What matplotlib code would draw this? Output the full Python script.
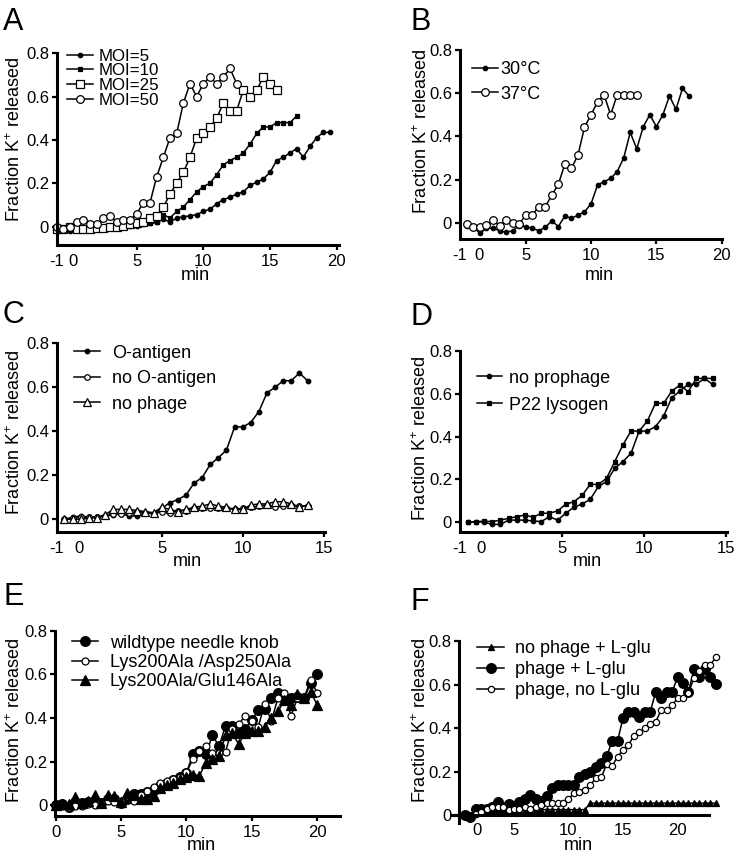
import matplotlib
matplotlib.use('Agg')
import matplotlib.pyplot as plt

plt.rcParams['font.family'] = ['Liberation Sans', 'DejaVu Sans']
plt.rcParams['mathtext.fontset'] = 'custom'
plt.rcParams['mathtext.rm'] = 'Liberation Sans'
plt.rcParams['mathtext.default'] = 'regular'

W, H = 738, 856

# ---- data (fraction of K+ released vs. time in min) ----
# panel A
tA = [-1, -0.5, 0, 0.5, 1, 1.5, 2, 2.5, 3, 3.5, 4, 4.5, 5, 5.5, 6, 6.5, 7, 7.5, 8, 8.5, 9,
      9.5, 10, 10.5, 11, 11.5, 12, 12.5, 13, 13.5, 14, 14.5, 15, 15.5, 16, 16.5, 17, 17.5,
      18, 18.5, 19, 19.5]
moi5 = [-0.01, -0.015, -0.02, -0.01, -0.015, -0.01, -0.01, -0.005, -0.005, 0, 0, 0.005, 0.005,
        0.01, 0.015, 0.02, 0.035, 0.02, 0.04, 0.045, 0.05, 0.055, 0.07, 0.08, 0.105, 0.125,
        0.135, 0.15, 0.16, 0.19, 0.205, 0.22, 0.25, 0.305, 0.32, 0.34, 0.36, 0.32, 0.37, 0.41,
        0.435, 0.435]
moi10 = [-0.01, -0.01, -0.015, -0.01, -0.01, -0.01, -0.005, -0.005, 0, 0, 0.005, 0.01, 0.01,
         0.015, 0.015, 0.02, 0.055, 0.04, 0.07, 0.09, 0.125, 0.16, 0.185, 0.2, 0.24, 0.285,
         0.305, 0.32, 0.34, 0.38, 0.43, 0.46, 0.46, 0.48, 0.48, 0.48, 0.51]
moi25 = [-0.01, -0.01, 0.0, -0.01, -0.01, -0.01, -0.005, -0.005, 0.0, 0.0, 0.005, 0.01, 0.015,
         0.02, 0.04, 0.05, 0.09, 0.15, 0.2, 0.25, 0.32, 0.41, 0.43, 0.46, 0.5, 0.57, 0.535,
         0.535, 0.63, 0.6, 0.63, 0.69, 0.66, 0.63]
moi50 = [0.0, -0.01, 0.0, 0.02, 0.03, 0.01, 0.01, 0.04, 0.05, 0.02, 0.03, 0.03, 0.06, 0.11,
         0.11, 0.23, 0.32, 0.41, 0.43, 0.57, 0.66, 0.6, 0.66, 0.69, 0.66, 0.69, 0.73, 0.66]

# panel B
tB = [0.5, 1, 1.5, 2, 2.5, 3, 3.5, 4, 4.5, 5, 5.5, 6, 6.5, 7, 7.5, 8, 8.5, 9, 9.5, 10, 10.5,
      11, 11.5, 12, 12.5, 13, 13.5, 14, 14.5, 15, 15.5, 16, 16.5, 17, 17.5]
c30 = [-0.015, -0.02, -0.05, -0.025, -0.026, -0.037, -0.045, -0.037, -0.015, -0.018, -0.026,
       -0.037, -0.022, 0.009, -0.018, 0.031, 0.02, 0.035, 0.05, 0.087, 0.175, 0.19, 0.205,
       0.236, 0.3, 0.418, 0.342, 0.445, 0.5, 0.445, 0.5, 0.587, 0.525, 0.622, 0.587]
c37 = [-0.006, -0.022, -0.018, -0.011, 0.012, -0.015, 0.012, 0.0, -0.006, 0.035, 0.035, 0.074,
       0.074, 0.128, 0.178, 0.272, 0.252, 0.313, 0.442, 0.5, 0.56, 0.592, 0.5, 0.592, 0.592,
       0.592, 0.592]

# panel C
tC = [-1, -0.5, 0, 0.5, 1, 1.5, 2, 2.5, 3, 3.5, 4, 4.5, 5, 5.5, 6, 6.5, 7, 7.5, 8, 8.5, 9,
      9.5, 10, 10.5, 11, 11.5, 12, 12.5, 13, 13.5, 14]
oant = [0.0, 0.01, 0.015, 0.01, 0.01, 0.015, 0.02, 0.025, 0.015, 0.015, 0.03, 0.025, 0.05,
        0.075, 0.09, 0.11, 0.165, 0.19, 0.25, 0.28, 0.315, 0.42, 0.42, 0.44, 0.49, 0.575, 0.6,
        0.63, 0.63, 0.665, 0.63]
no_oant = [0.0, 0.005, 0.01, 0.01, 0.01, 0.015, 0.025, 0.025, 0.03, 0.035, 0.03, 0.025, 0.035,
           0.03, 0.04, 0.04, 0.05, 0.05, 0.05, 0.05, 0.05, 0.045, 0.05, 0.055, 0.06, 0.065,
           0.055, 0.06, 0.065, 0.06, 0.06]
no_phage_c = [0.0, 0.0, 0.0, 0.005, 0.008, 0.02, 0.045, 0.045, 0.045, 0.04, 0.035, 0.03, 0.055,
              0.045, 0.035, 0.045, 0.055, 0.06, 0.07, 0.06, 0.055, 0.045, 0.045, 0.065, 0.07,
              0.07, 0.08, 0.08, 0.07, 0.055, 0.065]

# panel D
tD = [-0.8, -0.3, 0.2, 0.7, 1.2, 1.7, 2.2, 2.7, 3.2, 3.7, 4.2, 4.7, 5.2, 5.7, 6.2, 6.7, 7.2,
      7.7, 8.2, 8.7, 9.2, 9.7, 10.2, 10.7, 11.2, 11.7, 12.2, 12.7, 13.2, 13.7, 14.2]
no_proph = [0.0, 0.003, 0.0, -0.01, -0.01, 0.01, 0.01, 0.01, 0.006, 0.003, 0.026, 0.01, 0.042,
            0.07, 0.085, 0.107, 0.167, 0.19, 0.252, 0.283, 0.322, 0.426, 0.426, 0.447, 0.496,
            0.582, 0.613, 0.644, 0.644, 0.672, 0.644]
p22 = [0.0, 0.003, 0.005, 0.003, 0.01, 0.018, 0.026, 0.034, 0.023, 0.042, 0.042, 0.053, 0.084,
       0.096, 0.125, 0.177, 0.177, 0.205, 0.283, 0.361, 0.426, 0.426, 0.473, 0.556, 0.556,
       0.613, 0.641, 0.61, 0.672, 0.672, 0.672]

# panel E
tE = [0, 0.5, 1, 1.5, 2, 2.5, 3, 3.5, 4, 4.5, 5, 5.5, 6, 6.5, 7, 7.5, 8, 8.5, 9, 9.5, 10,
      10.5, 11, 11.5, 12, 12.5, 13, 13.5, 14, 14.5, 15, 15.5, 16, 16.5, 17, 17.5, 18, 18.5,
      19, 19.5, 20]
wt = [0, 0.003, -0.011, 0.015, 0.008, 0.015, 0.008, 0.01, 0.026, 0.026, 0.01, 0.026, 0.05,
      0.05, 0.06, 0.07, 0.087, 0.1, 0.115, 0.13, 0.145, 0.234, 0.25, 0.234, 0.32, 0.27, 0.364,
      0.364, 0.33, 0.347, 0.39, 0.435, 0.443, 0.49, 0.512, 0.49, 0.49, 0.497, 0.49, 0.558, 0.6]
k200_d250 = [0, -0.005, -0.01, -0.005, -0.005, 0.005, 0.0, 0.015, 0.02, 0.015, 0.02, 0.04, 0.02,
             0.045, 0.065, 0.085, 0.1, 0.11, 0.12, 0.13, 0.15, 0.21, 0.25, 0.27, 0.24, 0.24,
             0.245, 0.35, 0.37, 0.41, 0.385, 0.36, 0.465, 0.385, 0.49, 0.515, 0.41, 0.49, 0.49,
             0.575, 0.515]
k200_e146 = [0.0, 0.005, 0.005, 0.035, 0.01, 0.02, 0.045, 0.01, 0.045, 0.04, 0.015, 0.055,
             0.045, 0.03, 0.03, 0.04, 0.08, 0.09, 0.1, 0.12, 0.13, 0.14, 0.135, 0.195, 0.21,
             0.225, 0.32, 0.33, 0.28, 0.33, 0.34, 0.34, 0.36, 0.4, 0.43, 0.48, 0.46, 0.51, 0.49,
             0.52, 0.46]

# panel F
tF = [0.5, 1, 1.5, 2, 2.5, 3, 3.5, 4, 4.5, 5, 5.5, 6, 6.5, 7, 7.5, 8, 8.5, 9, 9.5, 10, 10.5,
      11, 11.5, 12, 12.5, 13, 13.5, 14, 14.5, 15, 15.5, 16, 16.5, 17, 17.5, 18, 18.5, 19, 19.5,
      20, 20.5, 21, 21.5, 22, 22.5, 23, 23.5]
phage_glu = [0, -0.01, 0.026, 0.026, 0.026, 0.035, 0.061, 0.035, 0.049, 0.035, 0.061, 0.074,
             0.092, 0.074, 0.066, 0.087, 0.123, 0.138, 0.138, 0.138, 0.138, 0.173, 0.19, 0.2,
             0.222, 0.24, 0.27, 0.34, 0.34, 0.447, 0.475, 0.475, 0.452, 0.475, 0.475, 0.567,
             0.536, 0.567, 0.567, 0.633, 0.605, 0.567, 0.67, 0.636, 0.67, 0.636, 0.602]
phage_noglu = [0.003, 0.015, 0.03, 0.035, 0.038, 0.035, 0.023, 0.03, 0.026, 0.035, 0.03, 0.035,
               0.046, 0.054, 0.054, 0.057, 0.057, 0.072, 0.103, 0.107, 0.115, 0.138, 0.169,
               0.173, 0.233, 0.225, 0.268, 0.299, 0.322, 0.365, 0.38, 0.398, 0.418, 0.429,
               0.483, 0.483, 0.506, 0.536, 0.536, 0.562, 0.63, 0.66, 0.69, 0.69, 0.725]
nophage_glu = [0.025, 0.025, 0.025, 0.025, 0.025, 0.025, 0.025, 0.025, 0.025, 0.025, 0.025,
               0.025, 0.025, 0.025, 0.025, 0.025, 0.025, 0.025, 0.025, 0.025, 0.025,
               0.055, 0.055, 0.055, 0.055, 0.055, 0.055, 0.055, 0.055, 0.055, 0.055, 0.055,
               0.055, 0.055, 0.055, 0.055, 0.055, 0.055, 0.055, 0.055, 0.055, 0.055, 0.055,
               0.055, 0.055]

YLAB = 'Fraction K$^{+}$ released'

fig = plt.figure(figsize=(7.38, 8.56), dpi=100)


def fx(px):
    return px / W


def fy(py):
    return 1 - py / H


def panel(box, xlim, ylim, xticks, xlabels, n_hidden, ylab_xy, xlab_xy):
    l, t, r, b = box
    ax = fig.add_axes([fx(l), fy(b), (r - l) / W, (b - t) / H])
    ax.set_xlim(xlim)
    ax.set_ylim(ylim)
    ax.spines['top'].set_visible(False)
    ax.spines['right'].set_visible(False)
    ax.spines['left'].set_linewidth(2.2)
    ax.spines['bottom'].set_linewidth(2.2)
    ax.set_yticks([0, 0.2, 0.4, 0.6, 0.8])
    ax.set_yticklabels(['0', '0.2', '0.4', '0.6', '0.8'])
    ax.set_xticks(xticks)
    ax.set_xticklabels(xlabels)
    ax.tick_params(axis='both', width=1.6, length=3.5, labelsize=12)
    ax.tick_params(axis='y', pad=2)
    ax.tick_params(axis='x', pad=3)
    for tk in ax.xaxis.get_major_ticks()[:n_hidden]:
        tk.tick1line.set_visible(False)
    ax.set_ylabel(YLAB, fontsize=13)
    ax.yaxis.set_label_coords(fx(ylab_xy[0]), fy(ylab_xy[1]), transform=fig.transFigure)
    ax.yaxis.label.set_va('center')
    ax.set_xlabel('min', fontsize=13)
    ax.xaxis.set_label_coords(fx(xlab_xy[0]), fy(xlab_xy[1]), transform=fig.transFigure)
    ax.xaxis.label.set_va('center')
    return ax


def series(ax, t, y, marker, ms, filled, label):
    ax.plot(t[:len(y)], y, color='black', lw=1.1, marker=marker, ms=ms, mew=0.9,
            mfc='black' if filled else 'white', mec='black', label=label, clip_on=False)


def legend(ax, x, y, fs, hl, tp, ls):
    ax.legend(loc='upper left', bbox_to_anchor=(fx(x), fy(y)), bbox_transform=fig.transFigure,
              frameon=False, fontsize=fs, handlelength=hl, handletextpad=tp, labelspacing=ls,
              borderpad=0, borderaxespad=0, numpoints=1)


# ---- A ----
axA = panel((56.7, 53.3, 339.3, 245), (-1.0, 20.2), (-0.085, 0.8),
            [-1, 0.2, 5, 10, 15, 20], ['-1', '0', '5', '10', '15', '20'], 2,
            (14.8, 139.2), (195, 276))
axA.set_xticks([0.2], minor=True)
axA.tick_params(axis='x', which='minor', direction='in', length=11.5, width=1.6)
series(axA, tA, moi5, 'o', 3.2, True, 'MOI=5')
series(axA, tA, moi10, 's', 3.5, True, 'MOI=10')
series(axA, tA, moi25, 's', 5.5, False, 'MOI=25')
series(axA, tA, moi50, 'o', 5.5, False, 'MOI=50')
legend(axA, 67, 48.6, 12.2, 1.55, 0.3, -0.01)

# ---- B ----
axB = panel((459.7, 50, 721.7, 239.3), (-0.05, 20.0), (-0.077, 0.8),
            [-0.05, 1.41, 5, 10, 15, 20], ['-1', '0', '5', '10', '15', '20'], 2,
            (421.8, 131.7), (599.5, 275))
series(axB, tB, c30, 'o', 3.2, True, '30°C')
series(axB, tB, c37, 'o', 5.5, False, '37°C')
legend(axB, 471.7, 61.1, 13, 1.46, 0.15, 0.42)

# ---- C ----
axC = panel((56.7, 343.3, 325, 532.3), (-1.48, 15.08), (-0.059, 0.8),
            [-1.48, -0.1, 5, 10, 15], ['-1', '0', '5', '10', '15'], 2,
            (14.5, 432.5), (187, 562))
series(axC, tC, oant, 'o', 3.3, True, 'O-antigen')
series(axC, tC, no_oant, 'o', 4.0, False, 'no O-antigen')
series(axC, tC, no_phage_c, '^', 6.0, False, 'no phage')
legend(axC, 74, 344.8, 13, 1.44, 0.65, 0.47)

# ---- D ----
axD = panel((459.7, 351, 727.3, 532.3), (-1.3, 15.1), (-0.047, 0.8),
            [-1.3, 0, 5, 10, 15], ['-1', '0', '5', '10', '15'], 2,
            (421, 438.3), (587, 561))
series(axD, tD, no_proph, 'o', 3.2, True, 'no prophage')
series(axD, tD, p22, 's', 3.4, True, 'P22 lysogen')
legend(axD, 477, 369.8, 13, 1.38, 0.39, 0.54)

# ---- E ----
axE = panel((55, 630.7, 340, 816), (-0.04, 21.75), (-0.05, 0.8),
            [0, 5, 10, 15, 20], ['0', '5', '10', '15', '20'], 0,
            (14.5, 720.8), (201.7, 846))
series(axE, tE, wt, 'o', 7.0, True, 'wildtype needle knob')
series(axE, tE, k200_d250, 'o', 5.0, False, 'Lys200Ala /Asp250Ala')
series(axE, tE, k200_e146, '^', 6.5, True, 'Lys200Ala/Glu146Ala')
legend(axE, 71.7, 634.8, 13, 1.47, 0.65, 0.12)

# ---- F ----
axF = panel((450.7, 641, 721.2, 822.7), (-0.8, 24.0), (-0.035, 0.8),
            [1.65, 5, 10, 15, 20], ['0', '5', '10', '15', '20'], 0,
            (421, 720.8), (578, 846))
axF.spines['left'].set_position(('data', 0))
axF.spines['bottom'].set_position(('data', 0))
axF.spines['bottom'].set_bounds(-0.8, 22.9)
axF.spines['left'].set_bounds(-0.035, 0.8)
axF.tick_params(axis='x', length=0, pad=6)
series(axF, tF[2:], nophage_glu, '^', 4.5, True, 'no phage + L-glu')
series(axF, tF, phage_glu, 'o', 7.0, True, 'phage + L-glu')
series(axF, tF[2:], phage_noglu, 'o', 4.5, False, 'phage, no L-glu')
legend(axF, 477.3, 640.4, 13, 1.48, 0.61, 0.21)

# ---- panel letters ----
for letter, (x, y) in zip('ABCDEF', [(3, 7), (410.7, 7), (3, 300), (410.7, 301.7),
                                     (3, 582), (410.7, 587)]):
    fig.text(fx(x), fy(y), letter, fontsize=22, ha='left', va='top')

fig.savefig('out.png', dpi=100)
